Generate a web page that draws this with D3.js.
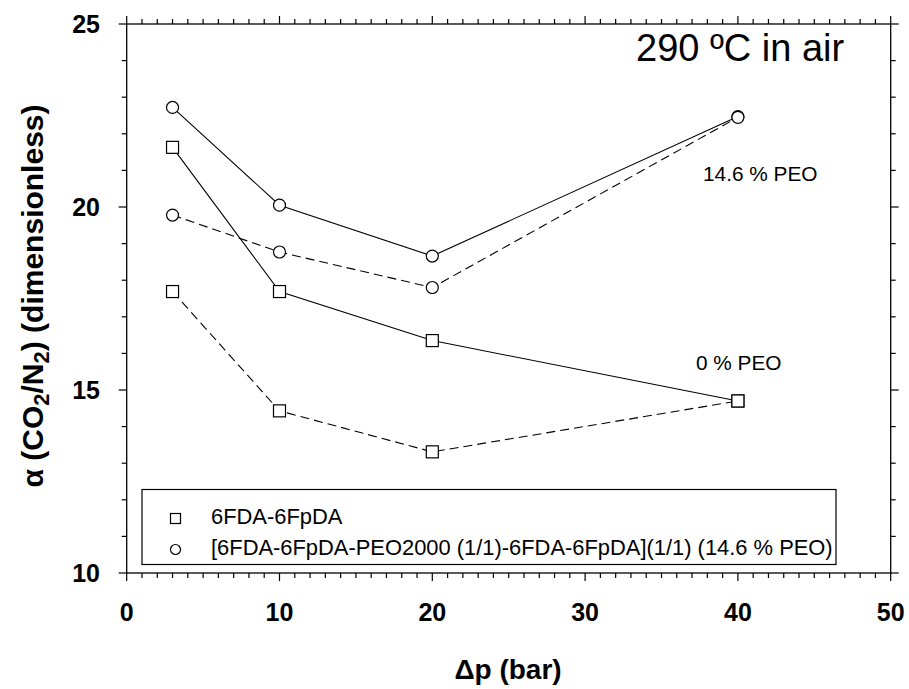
<!DOCTYPE html>
<html><head><meta charset="utf-8">
<script src="https://cdn.jsdelivr.net/npm/d3@7"></script>
<style>body{margin:0;background:#fff}</style>
</head><body>
<svg id="c" width="909" height="689"></svg>
<script>
const pressures = [3, 10, 20, 40];
const sq_solid = [21.63, 17.69, 16.35, 14.70];
const sq_dash = [17.69, 14.43, 13.31, 14.70];
const ci_solid = [22.72, 20.05, 18.66, 22.47];
const ci_dash = [19.78, 18.77, 17.80, 22.45];
const xTicks = [0, 10, 20, 30, 40, 50];
const yTicks = [10, 15, 20, 25];
const legendLabels = ["6FDA-6FpDA", "[6FDA-6FpDA-PEO2000 (1/1)-6FDA-6FpDA](1/1) (14.6 % PEO)"];

const svg = d3.select("#c");
const L = 126.7, R = 890.7, T = 24, B = 573;
const x = d3.scaleLinear().domain([0, 50]).range([L, R]);
const y = d3.scaleLinear().domain([10, 25]).range([B, T]);
const sans = "'Liberation Sans',Arial,sans-serif";

// frame
svg.append("rect").attr("x", L).attr("y", T).attr("width", R - L).attr("height", B - T)
  .attr("fill", "none").attr("stroke", "#000").attr("stroke-width", 1.3);

const minorX = d3.range(0, 51, 1);
const minorY = d3.range(10, 26, 1);
const g = svg.append("g").attr("stroke", "#000").attr("stroke-width", 1.2);
minorX.forEach(v => {
  const len = v % 10 === 0 ? 8 : 5;
  g.append("line").attr("x1", x(v)).attr("x2", x(v)).attr("y1", B).attr("y2", B + len);
  g.append("line").attr("x1", x(v)).attr("x2", x(v)).attr("y1", T).attr("y2", T - len);
});
minorY.forEach(v => {
  const len = v % 5 === 0 ? 8 : 5;
  g.append("line").attr("y1", y(v)).attr("y2", y(v)).attr("x1", L).attr("x2", L - len);
  g.append("line").attr("y1", y(v)).attr("y2", y(v)).attr("x1", R).attr("x2", R + len);
});

svg.append("g").selectAll("text").data(xTicks).join("text")
  .attr("x", d => x(d)).attr("y", 621).attr("text-anchor", "middle")
  .attr("font-family", sans).attr("font-weight", "bold").attr("font-size", 25).text(d => d);
svg.append("g").selectAll("text").data(yTicks).join("text")
  .attr("x", 100).attr("y", d => y(d) + 9).attr("text-anchor", "end")
  .attr("font-family", sans).attr("font-weight", "bold").attr("font-size", 25).text(d => d);

svg.append("text").attr("x", 508).attr("y", 679).attr("text-anchor", "middle")
  .attr("font-family", sans).attr("font-weight", "bold").attr("font-size", 28).text("Δp (bar)");

const yt = svg.append("text").attr("transform", "translate(43,296) rotate(-90)")
  .attr("text-anchor", "middle").attr("font-family", sans).attr("font-weight", "bold").attr("font-size", 30);
yt.append("tspan").text("α (CO");
yt.append("tspan").attr("font-size", 22).attr("dy", 6).text("2");
yt.append("tspan").attr("dy", -6).text("/N");
yt.append("tspan").attr("font-size", 22).attr("dy", 6).text("2");
yt.append("tspan").attr("dy", -6).text(") (dimensionless)");

// series
const line = d3.line().x((d, i) => x(pressures[i])).y(d => y(d));
const series = [
  {v: ci_solid, dash: null, shape: "c"},
  {v: ci_dash, dash: "9,5", shape: "c"},
  {v: sq_solid, dash: null, shape: "s"},
  {v: sq_dash, dash: "9,5", shape: "s"}
];
series.forEach(s => {
  svg.append("path").attr("d", line(s.v)).attr("fill", "none").attr("stroke", "#000")
    .attr("stroke-width", 1.1).attr("stroke-dasharray", s.dash);
});
function marker(sel, shape, cx, cy, r) {
  if (shape === "c") sel.append("circle").attr("cx", cx).attr("cy", cy).attr("r", r)
    .attr("fill", "#fff").attr("stroke", "#000").attr("stroke-width", 1.2);
  else sel.append("rect").attr("x", cx - r).attr("y", cy - r).attr("width", 2 * r).attr("height", 2 * r)
    .attr("fill", "#fff").attr("stroke", "#000").attr("stroke-width", 1.2);
}
series.forEach(s => s.v.forEach((d, i) => marker(svg, s.shape, x(pressures[i]), y(d), 6)));

// annotations
svg.append("text").attr("x", 636).attr("y", 61).attr("font-family", sans).attr("font-size", 38).text("290 ºC in air");
svg.append("text").attr("x", 703).attr("y", 181).attr("font-family", sans).attr("font-size", 20.8).text("14.6 % PEO");
svg.append("text").attr("x", 696).attr("y", 370).attr("font-family", sans).attr("font-size", 20.8).text("0 % PEO");

// legend
svg.append("rect").attr("x", 142).attr("y", 489.5).attr("width", 694).attr("height", 75)
  .attr("fill", "#fff").attr("stroke", "#000").attr("stroke-width", 1.2);
[["s", 518.5, 524], ["c", 549.5, 555]].forEach((m, i) => {
  marker(svg, m[0], 175.5, m[1], 5);
  svg.append("text").attr("x", 211).attr("y", m[2]).attr("font-family", sans).attr("font-size", 21.9)
    .text(legendLabels[i]);
});
</script>
</body></html>
